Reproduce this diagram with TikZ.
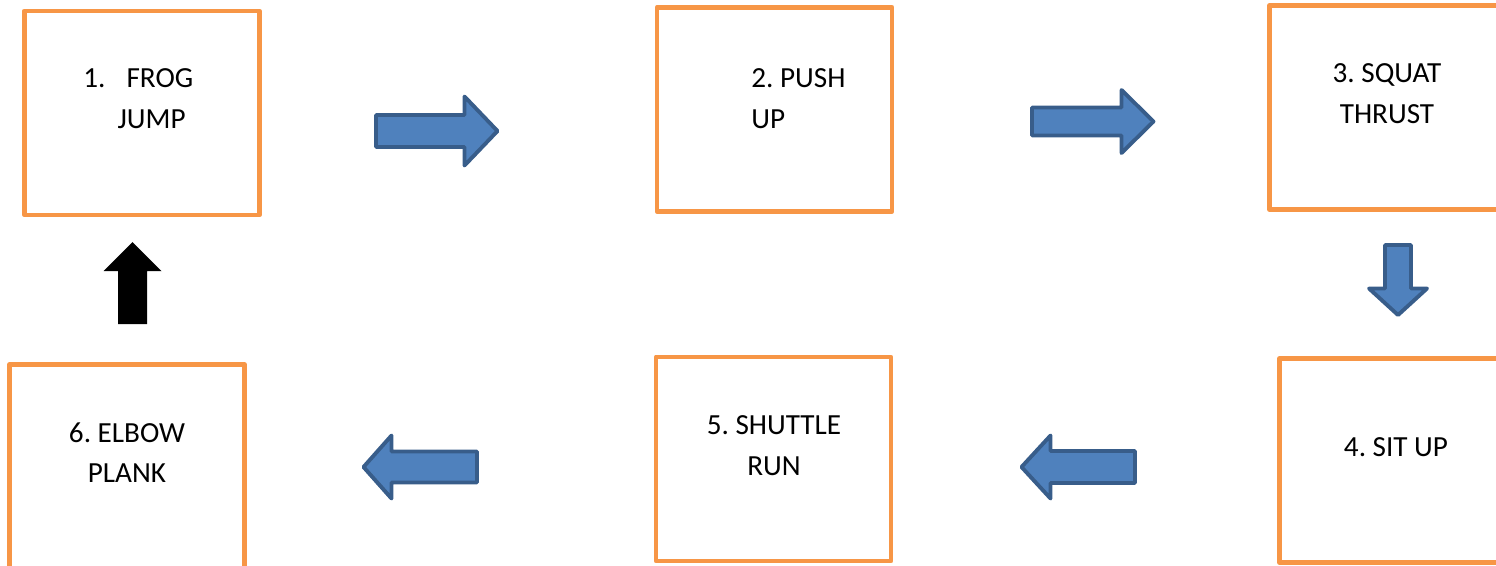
\documentclass[tikz,border=0pt]{standalone}
\usepackage{fontspec}
\setmainfont{Carlito}
\frenchspacing
\definecolor{boxorange}{HTML}{F79646}
\definecolor{arrowfill}{HTML}{4F81BD}
\definecolor{arrowline}{HTML}{385D8A}
\tikzset{
    stationbox/.style={
        draw=boxorange,
        line width=2.8pt,
        line join=round,
        minimum width=4.7cm,
        minimum height=4.08cm,
        inner sep=0pt},
    stationtext/.style={
        inner sep=0pt,
        font=\fontsize{16.6}{23.3}\selectfont},
    blockarrow/.style={
        fill=arrowfill,
        draw=arrowline,
        line width=2.2pt,
        line join=round},
    blackarrow/.style={
        fill=black,
        draw=none}
}
% #2 tail, #3 angle, #4 length, #5 head length, #6 shaft half width, #7 head half width
\newcommand{\blockarrow}[7][blockarrow]{%
    \path [#1, shift={(#2)}, rotate=#3]
        (0,-#6) -- (#4-#5,-#6) -- (#4-#5,-#7) -- (#4,0)
        -- (#4-#5,#7) -- (#4-#5,#6) -- (0,#6) -- cycle;
}

\begin{document}
\begin{tikzpicture}[x=0.02cm, y=-0.02cm]
\useasboundingbox (0,0) rectangle (1496,565);

\foreach \n/\x/\y in {1/142/113, 2/774.5/109.5, 3/1387/107.5,
                      4/1397/460.5, 5/773.5/459, 6/127/466.5}{
    \node [stationbox] (box\n) at (\x,\y) {};
}

\node [stationtext, anchor=north west, align=left] (label1) at (83,68)
    {1.\hspace{12pt}FROG\\\hspace{19.5pt}JUMP};
\node [stationtext, anchor=north west, align=left] (label2) at (751,68)
    {2. PUSH\\UP};
\node [stationtext, anchor=north, align=center] (label3) at (1387,63)
    {3. SQUAT\\THRUST};
\node [stationtext, anchor=north, align=center] (label4) at (1396,437)
    {4. SIT UP};
\node [stationtext, anchor=north, align=center] (label5) at (774,415)
    {5. SHUTTLE\\RUN};
\node [stationtext, anchor=north, align=center] (label6) at (127,422)
    {6. ELBOW\\PLANK};

\blockarrow{376,131}{0}{121.5}{33}{16}{34.5}
\blockarrow{1032,121.5}{0}{121.5}{32}{14}{31.5}
\blockarrow{1398,245}{-90}{70}{26.5}{13}{29}
\blockarrow{1135,467}{180}{113.5}{29}{16}{31.5}
\blockarrow{477,467}{180}{113.5}{28}{15.5}{31.5}
\blockarrow[blackarrow]{132.5,324}{90}{82}{29}{14.5}{29}

\end{tikzpicture}
\end{document}
